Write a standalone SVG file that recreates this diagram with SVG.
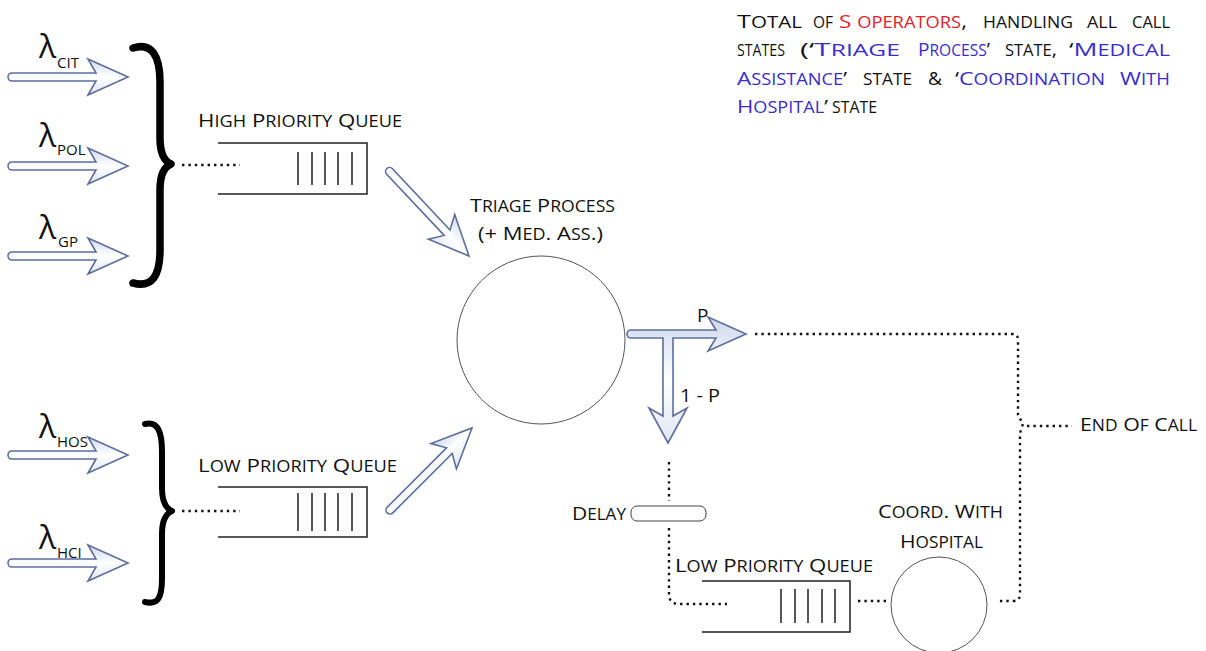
<svg xmlns="http://www.w3.org/2000/svg" xmlns:xlink="http://www.w3.org/1999/xlink" width="1206" height="651" viewBox="0 0 1206 651">
  <style>
    text { font-family: "Open Sans", "Liberation Sans", sans-serif; fill: #111; }
    .sc { font-size: 19px; }
    .s { font-size: 15.5px; }
    .blue { fill: #3a2ccf; }
    .red { fill: #e0222b; }
    .lam { font-size: 32px; }
    .sub { font-size: 15px; }
    .q { fill: none; stroke: #222; stroke-width: 1.5; }
    .bar { stroke: #222; stroke-width: 1.5; }
    .srv { fill: #fff; stroke: #555; stroke-width: 1; }
    .dots { fill: none; stroke: #111; stroke-width: 2.4; stroke-dasharray: 2.4 4; }
    .brace { fill: none; stroke: #000; stroke-linecap: round; stroke-linejoin: round; }
    .flow { fill: url(#flowFill); stroke: #5d6d9e; stroke-width: 1.6; stroke-linejoin: miter; }
  </style>
  <defs>
    <linearGradient id="flowFill" x1="0" y1="0" x2="0" y2="1">
      <stop offset="0" stop-color="#cfd9ee"/>
      <stop offset="0.5" stop-color="#ffffff"/>
      <stop offset="1" stop-color="#dfe6f4"/>
    </linearGradient>
    <!-- hollow block arrow, tip at the origin, pointing right -->
    <path id="arr" d="M-116,-4 H-32 L-40,-18 L0,0 L-40,18 L-32,4 H-116 A4,4 0 0 1 -116,-4 Z"/>
  </defs>

  <rect width="1206" height="651" fill="#fff"/>

  <!-- arrival streams -->
  <g id="in-cit">
    <use xlink:href="#arr" class="flow" transform="translate(128,77)"/>
    <text class="lam" x="39" y="58">λ</text><text class="sub" x="57" y="68">CIT</text>
  </g>
  <g id="in-pol">
    <use xlink:href="#arr" class="flow" transform="translate(128,166)"/>
    <text class="lam" x="39" y="147">λ</text><text class="sub" x="57" y="155">POL</text>
  </g>
  <g id="in-gp">
    <use xlink:href="#arr" class="flow" transform="translate(128,256)"/>
    <text class="lam" x="39" y="239">λ</text><text class="sub" x="58" y="247">GP</text>
  </g>
  <g id="in-hos">
    <use xlink:href="#arr" class="flow" transform="translate(128,455)"/>
    <text class="lam" x="39" y="438">λ</text><text class="sub" x="57" y="447">HOS</text>
  </g>
  <g id="in-hci">
    <use xlink:href="#arr" class="flow" transform="translate(128,563)"/>
    <text class="lam" x="39" y="549">λ</text><text class="sub" x="57" y="558">HCI</text>
  </g>

  <!-- grouping braces -->
  <g id="brace-high">
    <path class="brace" stroke-width="7.5" d="M133,48 C152,42 160,56 160,82 V138 C160,153 164,161 171,164 C164,167 160,175 160,190 V250 C160,276 152,288 133,283"/>
  </g>
  <g id="brace-low">
    <path class="brace" stroke-width="6" d="M145,424 C158,421 162,432 162,452 V488 C162,501 165,508 172,511 C165,514 162,521 162,534 V578 C162,598 158,605 145,602"/>
  </g>

  <!-- high priority queue -->
  <g id="queue-high">
    <text class="sc" x="198" y="127" textLength="204" lengthAdjust="spacingAndGlyphs">H<tspan class="s">IGH</tspan> P<tspan class="s">RIORITY</tspan> Q<tspan class="s">UEUE</tspan></text>
    <path class="q" d="M218,143 H367 V194 H218"/>
    <path class="bar" d="M298,152 V185 M312,152 V185 M325,152 V185 M338,152 V185 M352,152 V185"/>
  </g>

  <!-- low priority queue (new calls) -->
  <g id="queue-low">
    <text class="sc" x="198" y="472" textLength="199" lengthAdjust="spacingAndGlyphs">L<tspan class="s">OW</tspan> P<tspan class="s">RIORITY</tspan> Q<tspan class="s">UEUE</tspan></text>
    <path class="q" d="M218,487 H367 V537 H218"/>
    <path class="bar" d="M298,493 V531 M312,493 V531 M325,493 V531 M338,493 V531 M352,493 V531"/>
  </g>

  <!-- triage server -->
  <g id="triage">
    <text class="sc" x="470" y="212" textLength="145" lengthAdjust="spacingAndGlyphs">T<tspan class="s">RIAGE</tspan> P<tspan class="s">ROCESS</tspan></text>
    <text class="sc" x="478" y="240" textLength="125" lengthAdjust="spacingAndGlyphs">(+ M<tspan class="s">ED</tspan>. A<tspan class="s">SS</tspan>.)</text>
    <circle class="srv" cx="541" cy="340" r="84"/>
  </g>

  <!-- delay stage -->
  <g id="delay">
    <text class="sc" x="572" y="520" textLength="54" lengthAdjust="spacingAndGlyphs">D<tspan class="s">ELAY</tspan></text>
    <rect x="631" y="506" width="75" height="15" rx="6" fill="#fff" stroke="#444" stroke-width="1"/>
  </g>

  <!-- low priority queue before hospital coordination -->
  <g id="queue-coord">
    <text class="sc" x="675" y="572" textLength="198" lengthAdjust="spacingAndGlyphs">L<tspan class="s">OW</tspan> P<tspan class="s">RIORITY</tspan> Q<tspan class="s">UEUE</tspan></text>
    <path class="q" d="M702,581 H850 V632 H702"/>
    <path class="bar" d="M781,589 V623 M795,589 V623 M808,589 V623 M822,589 V623 M835,589 V623"/>
  </g>

  <!-- hospital coordination server -->
  <g id="coord">
    <text class="sc" x="878" y="518" textLength="125" lengthAdjust="spacingAndGlyphs">C<tspan class="s">OORD</tspan>. W<tspan class="s">ITH</tspan></text>
    <text class="sc" x="900" y="548" textLength="83" lengthAdjust="spacingAndGlyphs">H<tspan class="s">OSPITAL</tspan></text>
    <circle class="srv" cx="939" cy="605" r="48"/>
  </g>

  <!-- exit -->
  <g id="end-of-call">
    <text class="sc" x="1080" y="431" textLength="117" lengthAdjust="spacingAndGlyphs">E<tspan class="s">ND</tspan> O<tspan class="s">F</tspan> C<tspan class="s">ALL</tspan></text>
  </g>

  <!-- operator pool note -->
  <g id="note" class="sc">
    <text x="737" y="28" textLength="65" lengthAdjust="spacingAndGlyphs">T<tspan class="s">OTAL</tspan></text>
    <text x="813" y="28" textLength="20" lengthAdjust="spacingAndGlyphs"><tspan class="s">OF</tspan></text>
    <text x="839" y="28" textLength="128" lengthAdjust="spacingAndGlyphs"><tspan class="red">S <tspan class="s">OPERATORS</tspan></tspan>,</text>
    <text x="983" y="28" textLength="90" lengthAdjust="spacingAndGlyphs"><tspan class="s">HANDLING</tspan></text>
    <text x="1087" y="28" textLength="30" lengthAdjust="spacingAndGlyphs"><tspan class="s">ALL</tspan></text>
    <text x="1132" y="28" textLength="38" lengthAdjust="spacingAndGlyphs"><tspan class="s">CALL</tspan></text>

    <text x="737" y="56" textLength="48" lengthAdjust="spacingAndGlyphs"><tspan class="s">STATES</tspan></text>
    <text x="800" y="56" textLength="100" lengthAdjust="spacingAndGlyphs">(‘<tspan class="blue">T<tspan class="s">RIAGE</tspan></tspan></text>
    <text x="918" y="56" textLength="72" lengthAdjust="spacingAndGlyphs"><tspan class="blue">P<tspan class="s">ROCESS</tspan></tspan>’</text>
    <text x="1005" y="56" textLength="52" lengthAdjust="spacingAndGlyphs"><tspan class="s">STATE</tspan>,</text>
    <text x="1069" y="56" textLength="101" lengthAdjust="spacingAndGlyphs">‘<tspan class="blue">M<tspan class="s">EDICAL</tspan></tspan></text>

    <text x="737" y="85" textLength="110" lengthAdjust="spacingAndGlyphs"><tspan class="blue">A<tspan class="s">SSISTANCE</tspan></tspan>’</text>
    <text x="863" y="85" textLength="49" lengthAdjust="spacingAndGlyphs"><tspan class="s">STATE</tspan></text>
    <text x="928" y="85" textLength="14" lengthAdjust="spacingAndGlyphs">&amp;</text>
    <text x="955" y="85" textLength="150" lengthAdjust="spacingAndGlyphs">‘<tspan class="blue">C<tspan class="s">OORDINATION</tspan></tspan></text>
    <text x="1120" y="85" textLength="50" lengthAdjust="spacingAndGlyphs" class="blue">W<tspan class="s">ITH</tspan></text>

    <text x="737" y="113" textLength="91" lengthAdjust="spacingAndGlyphs"><tspan class="blue">H<tspan class="s">OSPITAL</tspan></tspan>’</text>
    <text x="832" y="113" textLength="45" lengthAdjust="spacingAndGlyphs"><tspan class="s">STATE</tspan></text>
  </g>

  <!-- connectors -->
  <g id="connectors">
    <path class="dots" d="M182,165 H240"/>
    <path class="dots" d="M182,511 H240"/>
    <use xlink:href="#arr" class="flow" transform="translate(469,256) rotate(46.8)"/>
    <use xlink:href="#arr" class="flow" transform="translate(472,428) rotate(-45)"/>
    <!-- routing split after triage -->
    <path class="flow" d="M631,330 H716 L708,317 L746,334 L708,351 L716,338 H673 V416 L687,408 L668,443 L649,408 L663,416 V338 H631 A4,4 0 0 1 631,330 Z"/>
    <text x="697" y="322" font-size="19">P</text>
    <text x="680" y="402" font-size="19" textLength="40" lengthAdjust="spacingAndGlyphs">1 - P</text>
    <path class="dots" d="M755,334 H1012 Q1018,334 1018,340 V415 L1023,424 L1020,433 V594 Q1020,601 1013,601 H997"/>
    <path class="dots" d="M1027,426 H1072"/>
    <path class="dots" d="M669,462 V501"/>
    <path class="dots" d="M669,528 V594 Q669,604 679,604 H727"/>
    <path class="dots" d="M858,601 H888"/>
  </g>
</svg>
